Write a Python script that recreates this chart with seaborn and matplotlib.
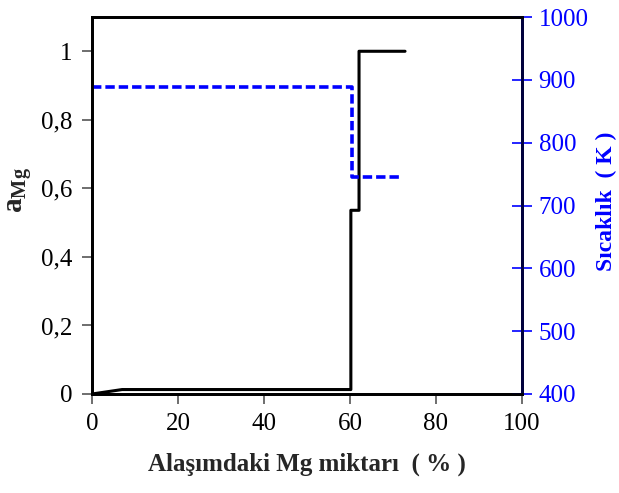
import matplotlib
matplotlib.use("Agg")
import matplotlib.pyplot as plt
import seaborn as sns
import pandas as pd
from matplotlib.ticker import FuncFormatter

sns.set_style("white")
plt.rcParams['font.family'] = ['Liberation Serif', 'DejaVu Serif']
plt.rcParams['mathtext.fontset'] = 'custom'
plt.rcParams['mathtext.rm'] = 'Liberation Serif'
plt.rcParams['mathtext.bf'] = 'Liberation Serif:bold'
plt.rcParams['mathtext.it'] = 'Liberation Serif:italic'

# Data
mg_x = [0, 7, 60.2, 60.2, 62.1, 62.1, 72.8]
a_mg = [0, 0.013, 0.013, 0.536, 0.536, 1.0, 1.0]
t_x = [0, 60.4, 60.4, 72.0]
t_k = [888, 888, 745, 745]
x_ticks = [0, 20, 40, 60, 80, 100]
a_ticks = [0, 0.2, 0.4, 0.6, 0.8, 1.0]
t_ticks = [400, 500, 600, 700, 800, 900, 1000]

df_a = pd.DataFrame({"x": mg_x, "y": a_mg})
df_t = pd.DataFrame({"x": t_x, "y": t_k})

fig = plt.figure(figsize=(6.19, 4.93), dpi=100)
ax = fig.add_axes([92/619, 1-394/493, 430/619, 377/493])
ax2 = ax.twinx()

sns.lineplot(data=df_a, x="x", y="y", ax=ax, sort=False, estimator=None,
             color="black", linewidth=2.2)
sns.lineplot(data=df_t, x="x", y="y", ax=ax2, sort=False, estimator=None,
             color="#0000ff", linewidth=2.6, dashes=False)
ax2.lines[0].set_linestyle((0, (2.6, 1.1)))

ax.set_xlim(0, 100)
ax.set_ylim(0, 1.1)
ax2.set_ylim(400, 1000)
ax.set_xticks(x_ticks)
ax.set_yticks(a_ticks)
ax2.set_yticks(t_ticks)

fmt = FuncFormatter(lambda v, p: ("%g" % round(v, 2)).replace(".", ","))
ax.yaxis.set_major_formatter(fmt)

ax.tick_params(axis='both', which='major', direction='out', length=7, width=1.2,
               color='#555555', labelsize=18, labelcolor='black', pad=7,
               bottom=True, left=True)
ax2.tick_params(axis='y', direction='inout', length=14, width=1.2,
                color='#0000ff', labelsize=18, labelcolor='#0000ff', pad=5, right=True)

for a in (ax, ax2):
    for s in a.spines.values():
        s.set_visible(True)
        s.set_color('black')
        s.set_linewidth(2)
ax2.spines['right'].set_color('#000040')

ax.set_xlabel("Alaşımdaki Mg miktarı  ( % )", fontsize=18, fontweight='bold', labelpad=12)
ax.set_ylabel(r"$\mathbf{a}_{\mathbf{Mg}}$", fontsize=21)
ax.yaxis.set_label_coords((34 - 92) / 430, 0.54)
ax2.set_ylabel("Sıcaklık  ( K )", fontsize=17, fontweight='bold', color='#0000ff')
ax2.yaxis.set_label_coords(1 + (596 - 522) / 430, 0.51)

fig.savefig("out.png", dpi=100)
